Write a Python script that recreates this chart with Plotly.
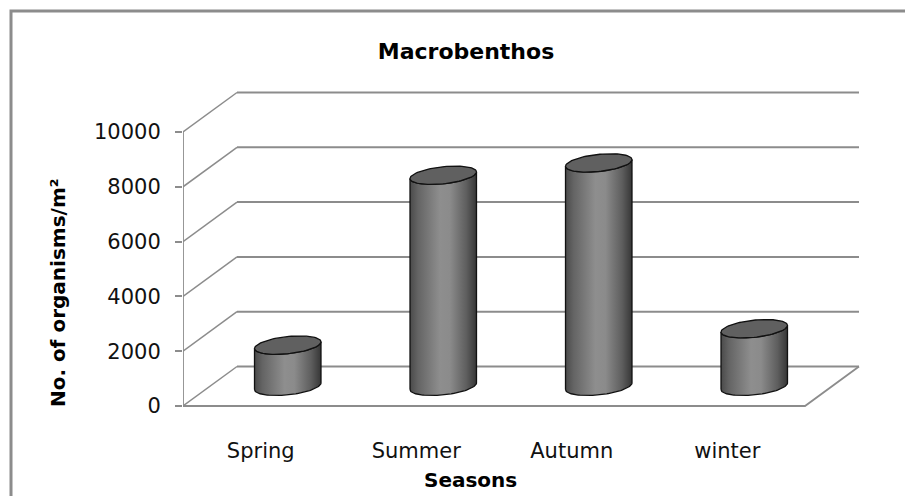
import numpy as np
import plotly.graph_objects as go

# ---------------- data ----------------
categories = ["Spring", "Summer", "Autumn", "winter"]
values = [1500, 7700, 8150, 2100]
y_ticks = [0, 2000, 4000, 6000, 8000, 10000]
y_tick_labels = ["0", "2000", "4000", "6000", "8000", "10000"]
title_text = "Macrobenthos"
x_title = "Seasons"
y_title = "No. of organisms/m²"

# ---------------- layout geometry (pixels) ----------------
W, H = 905, 496
M_L, M_R, M_T, M_B = 183, 35, 85, 76
PX_PER_CAT = 155.5
PX_PER_VAL = 274.0 / 10000.0
plot_w = W - M_L - M_R
plot_h = H - M_T - M_B
x_rng = [-0.5, -0.5 + plot_w / PX_PER_CAT]
y_top = (406 - M_T) / PX_PER_VAL
y_rng = [y_top - plot_h / PX_PER_VAL, y_top]

# oblique depth offset of the back wall
DX = 54 / PX_PER_CAT
DY = 39.5 / PX_PER_VAL
n = len(categories)
x_front_l, x_front_r = -0.5, n - 0.5
ymax = y_ticks[-1]

GRID = "#8c8c8c"
fig = go.Figure()

def line_trace(xs, ys, width=1.8, color=GRID):
    fig.add_trace(go.Scatter(x=xs, y=ys, mode="lines", line=dict(color=color, width=width),
                             hoverinfo="skip", showlegend=False))

# back-wall gridlines and left-wall diagonals
bx, by, dx_, dy_ = [], [], [], []
for v in y_ticks:
    bx += [x_front_l + DX, x_front_r + DX, None]
    by += [v + DY, v + DY, None]
    dx_ += [x_front_l, x_front_l + DX, None]
    dy_ += [v, v + DY, None]
line_trace(bx, by, 2.0)
line_trace(dx_, dy_, 1.5)
# floor
line_trace([x_front_l, x_front_r, x_front_r + DX], [0, 0, DY], 1.8)
# front value axis
line_trace([x_front_l, x_front_l], [0, ymax], 1.8)

# ---------------- cylinders ----------------
A = 31 / PX_PER_CAT      # horizontal semi-axis
B = 12 / PX_PER_CAT      # depth skew in x
C = 9.2 / PX_PER_VAL     # depth skew in y
th0 = np.arctan2(B, A)

def ell(cx, cy, th):
    return cx + A * np.cos(th) + B * np.sin(th), cy + C * np.sin(th)

body_scale = [[0, "#4a4a4a"], [0.12, "#646464"], [0.45, "#8e8e8e"], [0.6, "#8b8b8b"],
              [0.85, "#5e5e5e"], [1, "#363636"]]
for i, v in enumerate(values):
    cx = i + DX / 2
    base = DY / 2
    top = v + DY / 2
    th_front = np.linspace(th0 + np.pi, th0 + 2 * np.pi, 60)
    bxs, bys = ell(cx, base, th_front)
    txs, tys = ell(cx, top, th_front[::-1])
    xs = np.concatenate([bxs, txs, bxs[:1]])
    ys = np.concatenate([bys, tys, bys[:1]])
    fig.add_trace(go.Scatter(x=xs, y=ys, mode="lines", fill="toself",
                             fillgradient=dict(type="horizontal", colorscale=body_scale),
                             line=dict(color="#111111", width=1.3),
                             hoverinfo="skip", showlegend=False))
    th_all = np.linspace(0, 2 * np.pi, 90)
    exs, eys = ell(cx, top, th_all)
    fig.add_trace(go.Scatter(x=exs, y=eys, mode="lines", fill="toself",
                             fillcolor="#606060",
                             line=dict(color="#111111", width=1.3),
                             hoverinfo="skip", showlegend=False))

FONT = "DejaVu Sans"
fig.update_layout(
    width=W, height=H,
    margin=dict(l=M_L, r=M_R, t=M_T, b=M_B),
    paper_bgcolor="white", plot_bgcolor="white",
    title=dict(text=title_text, x=466 / W, xref="container", xanchor="center",
               y=1 - 51 / H, yref="container", yanchor="middle",
               font=dict(family=FONT, size=22, color="#000000", weight="bold")),
    xaxis=dict(range=x_rng, tickvals=list(range(n)), ticktext=categories,
               showgrid=False, zeroline=False, showline=False, ticks="",
               ticklabelstandoff=16,
               tickfont=dict(family=FONT, size=21, color="#111111")),
    yaxis=dict(range=y_rng, tickvals=y_ticks, ticktext=y_tick_labels,
               showgrid=False, zeroline=False,
               showline=False, ticks="outside", ticklen=7, tickwidth=1.5, tickcolor=GRID,
               ticklabelstandoff=10,
               tickfont=dict(family=FONT, size=21, color="#111111")),
    annotations=[
        dict(text=x_title, xref="paper", yref="paper",
             x=(470 - M_L) / plot_w, y=-(480 - (H - M_B)) / plot_h,
             xanchor="center", yanchor="middle", showarrow=False,
             font=dict(family=FONT, size=20, color="#000000", weight="bold")),
        dict(text=y_title, xref="paper", yref="paper", textangle=-90,
             x=(58 - M_L) / plot_w, y=((H - M_B) - 293) / plot_h,
             xanchor="center", yanchor="middle", showarrow=False,
             font=dict(family=FONT, size=20, color="#000000", weight="bold")),
    ],
    shapes=[dict(type="rect", xref="paper", yref="paper",
                 x0=(11 - M_L) / plot_w, x1=(W + 20 - M_L) / plot_w,
                 y0=-(H + 20 - (H - M_B)) / plot_h, y1=((H - M_B) - 11) / plot_h,
                 line=dict(color="#8c8c8c", width=3), layer="below")],
)

fig.write_html("out.html", config={"displayModeBar": False},
               post_script="document.body.style.margin='0';document.body.style.overflow='hidden';")
